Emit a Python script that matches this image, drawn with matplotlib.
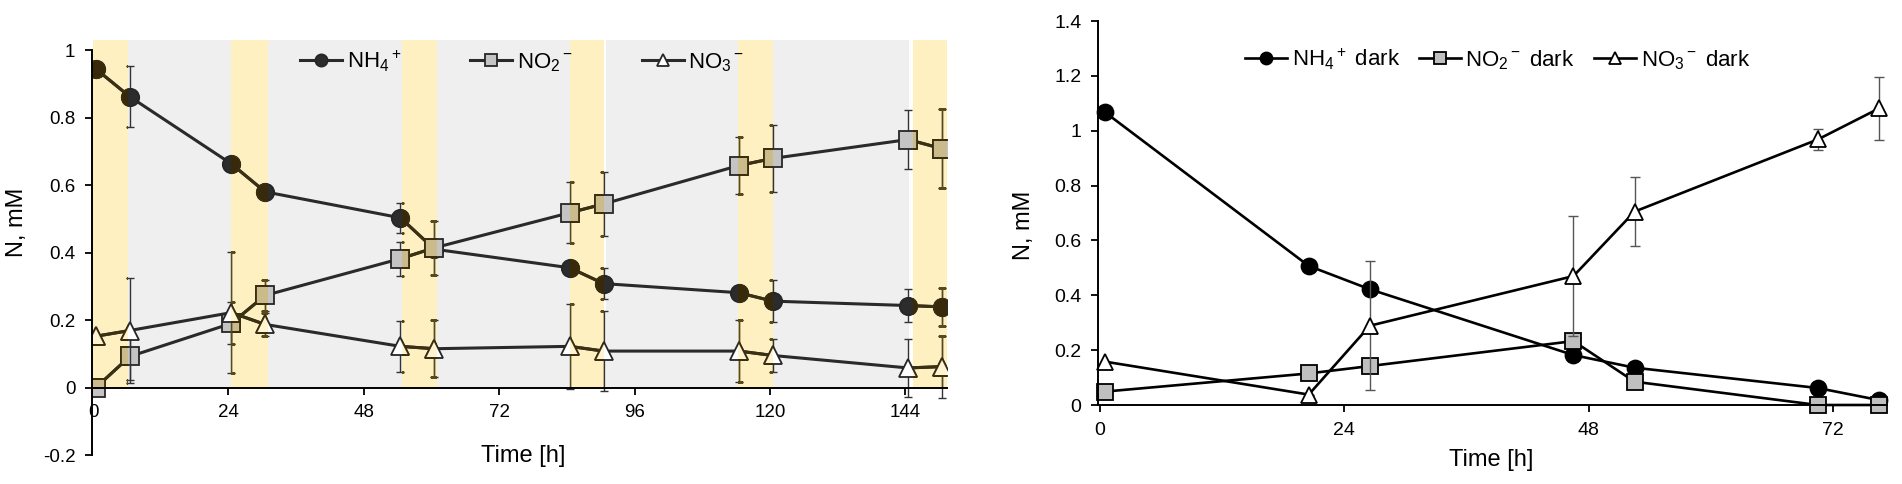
"""
Nitrogen species (NH4+, NO2-, NO3-) over time: light/dark cycle (left)
and continuous dark incubation (right).
"""
import matplotlib
matplotlib.use("Agg")
import matplotlib.pyplot as plt
from matplotlib.patches import Rectangle, PathPatch
from matplotlib.path import Path
from matplotlib.ticker import FuncFormatter

plt.rcParams['font.family'] = ['Liberation Sans', 'DejaVu Sans']
plt.rcParams['mathtext.fontset'] = 'custom'
plt.rcParams['mathtext.rm'] = 'Liberation Sans'
plt.rcParams['mathtext.it'] = 'Liberation Sans:italic'
plt.rcParams['mathtext.bf'] = 'Liberation Sans:bold'
plt.rcParams['axes.unicode_minus'] = False

# ---- left panel: light / dark cycle ----
time_cycle = [0.5, 6.5, 24.5, 30.5, 54.5, 60.5, 84.5, 90.5, 114.5, 120.5, 144.5, 150.5]
nh4 = [0.944, 0.862, 0.663, 0.580, 0.503, 0.410, 0.355, 0.308, 0.281, 0.256, 0.243, 0.239]
nh4_err = [0, 0.09, 0, 0, 0.045, 0, 0, 0.047, 0, 0.063, 0.049, 0.057]
no2 = [0.0, 0.092, 0.190, 0.273, 0.382, 0.414, 0.518, 0.544, 0.658, 0.679, 0.735, 0.708]
no2_err = [0, 0.07, 0.062, 0.047, 0.05, 0.08, 0.09, 0.094, 0.085, 0.1, 0.088, 0.117]
no3 = [0.152, 0.169, 0.222, 0.187, 0.122, 0.115, 0.122, 0.108, 0.108, 0.095, 0.058, 0.062]
no3_err = [0, 0.155, 0.18, 0.035, 0.075, 0.085, 0.125, 0.118, 0.093, 0.05, 0.085, 0.092]

light_start = [0, 24.5, 54.8, 84.6, 114.4, 145.4]
light_end = [6.25, 31.0, 61.0, 90.6, 120.6, 151.4]
dark_start = [6.25, 31.0, 61.0, 91.0, 120.6]
dark_end = [24.5, 54.8, 84.6, 114.4, 144.6]
band_top = 1.03

labels_cycle = [r'NH$_4$$^+$', r'NO$_2$$^-$', r'NO$_3$$^-$']
xticks_cycle = [0, 24, 48, 72, 96, 120, 144]
yticks_cycle = [-0.2, 0, 0.2, 0.4, 0.6, 0.8, 1.0]

# ---- right panel: dark only ----
time_dark = [0.5, 20.5, 26.5, 46.5, 52.5, 70.5, 76.5]
nh4_dark = [1.067, 0.507, 0.422, 0.182, 0.136, 0.062, 0.018]
nh4_dark_err = [0, 0, 0, 0, 0, 0, 0]
no2_dark = [0.049, 0.115, 0.142, 0.233, 0.085, 0.0, 0.0]
no2_dark_err = [0, 0, 0, 0, 0, 0, 0]
no3_dark = [0.158, 0.038, 0.289, 0.470, 0.705, 0.968, 1.081]
no3_dark_err = [0, 0, 0.236, 0.22, 0.125, 0.04, 0.115]

labels_dark = [r'NH$_4$$^+$ dark', r'NO$_2$$^-$ dark', r'NO$_3$$^-$ dark']
xticks_dark = [0, 24, 48, 72]
yticks_dark = [0, 0.2, 0.4, 0.6, 0.8, 1.0, 1.2, 1.4]

W, H = 1902, 484


def plot_series(ax, t, y, err, marker, face, edge, line, ecolor, ms, lw, cap, z,
                clip=None, clip_on=True):
    """Draw one series: error bars below, line + markers on top."""
    eb = ax.errorbar(t, y, yerr=err, fmt='none', ecolor=ecolor, elinewidth=1.0,
                     capsize=cap, capthick=1.0, zorder=z)
    ln, = ax.plot(t, y, color=line, lw=lw, marker=marker, ms=ms, mfc=face,
                  mec=edge, mew=1.3, zorder=z + 0.4)
    artists = [ln] + list(eb.lines[1]) + list(eb.lines[2])
    for a in artists:
        a.set_clip_on(clip_on)
        if clip is not None:
            a.set_clip_path(clip)
    return ln


def band_clip(ax, starts, ends, top):
    verts, codes = [], []
    for x0, x1 in zip(starts, ends):
        verts += [(x0, 0), (x1, 0), (x1, top), (x0, top), (x0, 0)]
        codes += [Path.MOVETO, Path.LINETO, Path.LINETO, Path.LINETO, Path.CLOSEPOLY]
    return PathPatch(Path(verts, codes), transform=ax.transData)


def style_axis(ax, xticks, yticks, fs):
    ax.spines['top'].set_visible(False)
    ax.spines['right'].set_visible(False)
    for s in ('left', 'bottom'):
        ax.spines[s].set_linewidth(1.4)
        ax.spines[s].set_zorder(10)
    ax.set_xticks(xticks)
    ax.set_yticks(yticks)
    ax.yaxis.set_major_formatter(FuncFormatter(lambda v, p: '%g' % round(v, 2)))
    ax.tick_params(direction='out', length=5, width=1.3, labelsize=fs, pad=7)


def plot_cycle(fig):
    ax = fig.add_axes([92 / W, 1 - 455 / H, (947 - 92) / W, (455 - 40) / H])
    ax.set_xlim(-0.2, 151.4)
    ax.set_ylim(-0.2, band_top)

    for x0, x1 in zip(dark_start, dark_end):
        ax.add_patch(Rectangle((x0, 0), x1 - x0, band_top, color='#efefef', lw=0, zorder=0.5))
    for x0, x1 in zip(light_start, light_end):
        ax.add_patch(Rectangle((x0, 0), x1 - x0, band_top, color='#fff0c2', lw=0, zorder=0.5))

    series = [(nh4, nh4_err, 'o', '#2c2c2c', '#37290a'),
              (no2, no2_err, 's', '#c4c4c4', '#cbbb8b'),
              (no3, no3_err, '^', '#ffffff', '#fff4cf')]
    clip = band_clip(ax, light_start, light_end, band_top)
    handles = []
    for i, (y, err, m, face, tint) in enumerate(series):
        z = 3 + i
        h = plot_series(ax, time_cycle, y, err, m, face, '#262626', '#2a2a2a', '#333333',
                        ms=12.5, lw=2.2, cap=2.6, z=z)
        plot_series(ax, time_cycle, y, err, m, tint, '#3a2e10', '#3a3012', '#5a4a1a',
                    ms=12.5, lw=2.2, cap=2.6, z=z + 0.2, clip=clip)
        handles.append(h)

    style_axis(ax, xticks_cycle, yticks_cycle, 13.5)
    ax.spines['bottom'].set_position(('data', 0))
    ax.spines['left'].set_bounds(-0.2, 1.0)

    fig.text(523 / W, 1 - 456 / H, 'Time [h]', fontsize=17, ha='center', va='center')
    fig.text(17 / W, 1 - 222 / H, 'N, mM', fontsize=17, rotation=90,
             ha='center', va='center')

    fig.legend(handles, labels_cycle, loc='center left',
               bbox_to_anchor=(300 / W, 1 - 61 / H), ncol=3, frameon=False,
               fontsize=16, handlelength=1.9, handletextpad=0.2, columnspacing=3.1,
               markerscale=0.7, borderpad=0, borderaxespad=0)


def plot_dark(fig):
    ax = fig.add_axes([1098 / W, 1 - 405 / H, (1887 - 1098) / W, (405 - 21) / H])
    ax.set_xlim(-0.2, 77.3)
    ax.set_ylim(0, 1.4)

    series = [(nh4_dark, nh4_dark_err, 'o', '#000000'),
              (no2_dark, no2_dark_err, 's', '#bfbfbf'),
              (no3_dark, no3_dark_err, '^', '#ffffff')]
    handles = []
    for i, (y, err, m, face) in enumerate(series):
        h = plot_series(ax, time_dark, y, err, m, face, '#000000', '#000000', '#555555',
                        ms=11.5, lw=1.9, cap=3.6, z=3 + i, clip_on=False)
        handles.append(h)

    style_axis(ax, xticks_dark, yticks_dark, 14)

    fig.text(1491 / W, 1 - 460 / H, 'Time [h]', fontsize=17, ha='center', va='center')
    fig.text(1024 / W, 1 - 225 / H, 'N, mM', fontsize=17, rotation=90,
             ha='center', va='center')

    fig.legend(handles, labels_dark, loc='center left',
               bbox_to_anchor=(1245 / W, 1 - 59 / H), ncol=3, frameon=False,
               fontsize=16, handlelength=1.9, handletextpad=0.2, columnspacing=0.85,
               markerscale=0.75, borderpad=0, borderaxespad=0)


def main():
    fig = plt.figure(figsize=(W / 100, H / 100), dpi=100)
    plot_cycle(fig)
    plot_dark(fig)
    fig.savefig('out.png', dpi=100, facecolor='white')


if __name__ == "__main__":
    main()
